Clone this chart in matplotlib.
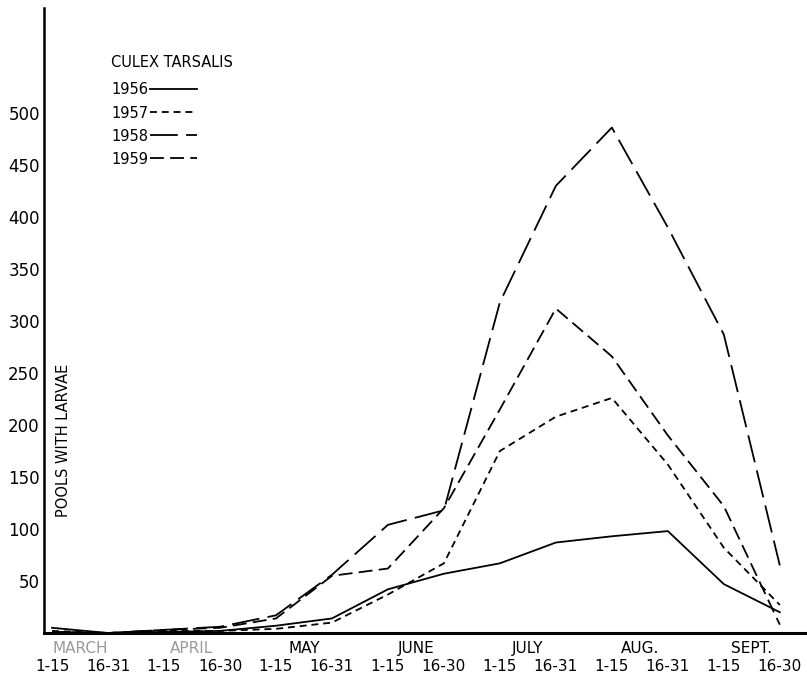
import matplotlib
matplotlib.use("Agg")
import matplotlib.pyplot as plt
from matplotlib.lines import Line2D

plt.rcParams['font.family'] = ['DejaVu Sans']
plt.rcParams['lines.scale_dashes'] = False

# half-month periods, March 1-15 .. Sept 16-30
half_labels = ["1-15", "16-31", "1-15", "16-30", "1-15", "16-31", "1-15",
               "16-30", "1-15", "16-31", "1-15", "16-31", "1-15", "16-30"]
months = ["MARCH", "APRIL", "MAY", "JUNE", "JULY", "AUG.", "SEPT."]

# pools with larvae
y1956 = [5, 0, 1, 2, 7, 14, 42, 57, 67, 87, 93, 98, 47, 20]
y1957 = [2, 0, 2, 2, 4, 10, 37, 67, 175, 208, 226, 162, 82, 27]
y1958 = [1, 0, 3, 6, 17, 56, 104, 118, 318, 430, 486, 390, 287, 65]
y1959 = [1, 0, 3, 5, 14, 55, 62, 120, 215, 312, 266, 190, 122, 8]
yticks = [50, 100, 150, 200, 250, 300, 350, 400, 450, 500]

W, H = 807, 677
fig = plt.figure(figsize=(W / 100, H / 100), dpi=100)
ax = fig.add_axes([44 / W, 44 / H, 761 / W, 625 / H])

x = list(range(len(half_labels)))
lw = 1.3
styles = {
    "1956": (y1956, "-"),
    "1957": (y1957, (0, (5, 3.5))),
    "1958": (y1958, (0, (20, 6))),
    "1959": (y1959, (0, (10, 4.5))),
}
handles = []
for year, (vals, ls) in styles.items():
    ax.plot(x, vals, color="black", lw=lw, linestyle=ls)
    handles.append(Line2D([], [], color="black", lw=lw, linestyle=ls))

ax.set_xlim(-0.143, 13.45)
ax.set_ylim(0, 601)

for s in ["top", "right"]:
    ax.spines[s].set_visible(False)
ax.spines["left"].set_linewidth(1.8)
ax.spines["bottom"].set_linewidth(2.2)

ax.set_yticks(yticks)
ax.set_yticklabels([str(v) for v in yticks], fontsize=12)
ax.tick_params(axis="y", length=0, pad=3)

# half-month labels (major) and month names (minor)
ax.set_xticks(x)
ax.set_xticklabels(half_labels, fontsize=11)
ax.set_xticks([i + 0.5 for i in range(0, 14, 2)], minor=True)
ax.set_xticklabels(months, minor=True, fontsize=11)
ax.tick_params(axis="x", which="major", length=0, pad=19)
ax.tick_params(axis="x", which="minor", length=0, pad=6)
for lbl in ax.get_xticklabels(minor=True)[:2]:
    lbl.set_color("#9a9a9a")

ax.text(64 / W, 1 - 440 / H, "POOLS WITH LARVAE", transform=fig.transFigure,
        rotation=90, ha="center", va="center", fontsize=10.5)

leg = ax.legend(handles, list(styles.keys()), title="CULEX TARSALIS",
                loc="upper left", bbox_to_anchor=(111 / W, 1 - 55 / H),
                bbox_transform=fig.transFigure, frameon=False,
                markerfirst=False, handlelength=3.2, handletextpad=0.15,
                labelspacing=0.55, borderpad=0, borderaxespad=0,
                fontsize=10.5, title_fontsize=10.5, alignment="left")
leg._legend_box.sep = 9

fig.savefig("out.png", dpi=100)
